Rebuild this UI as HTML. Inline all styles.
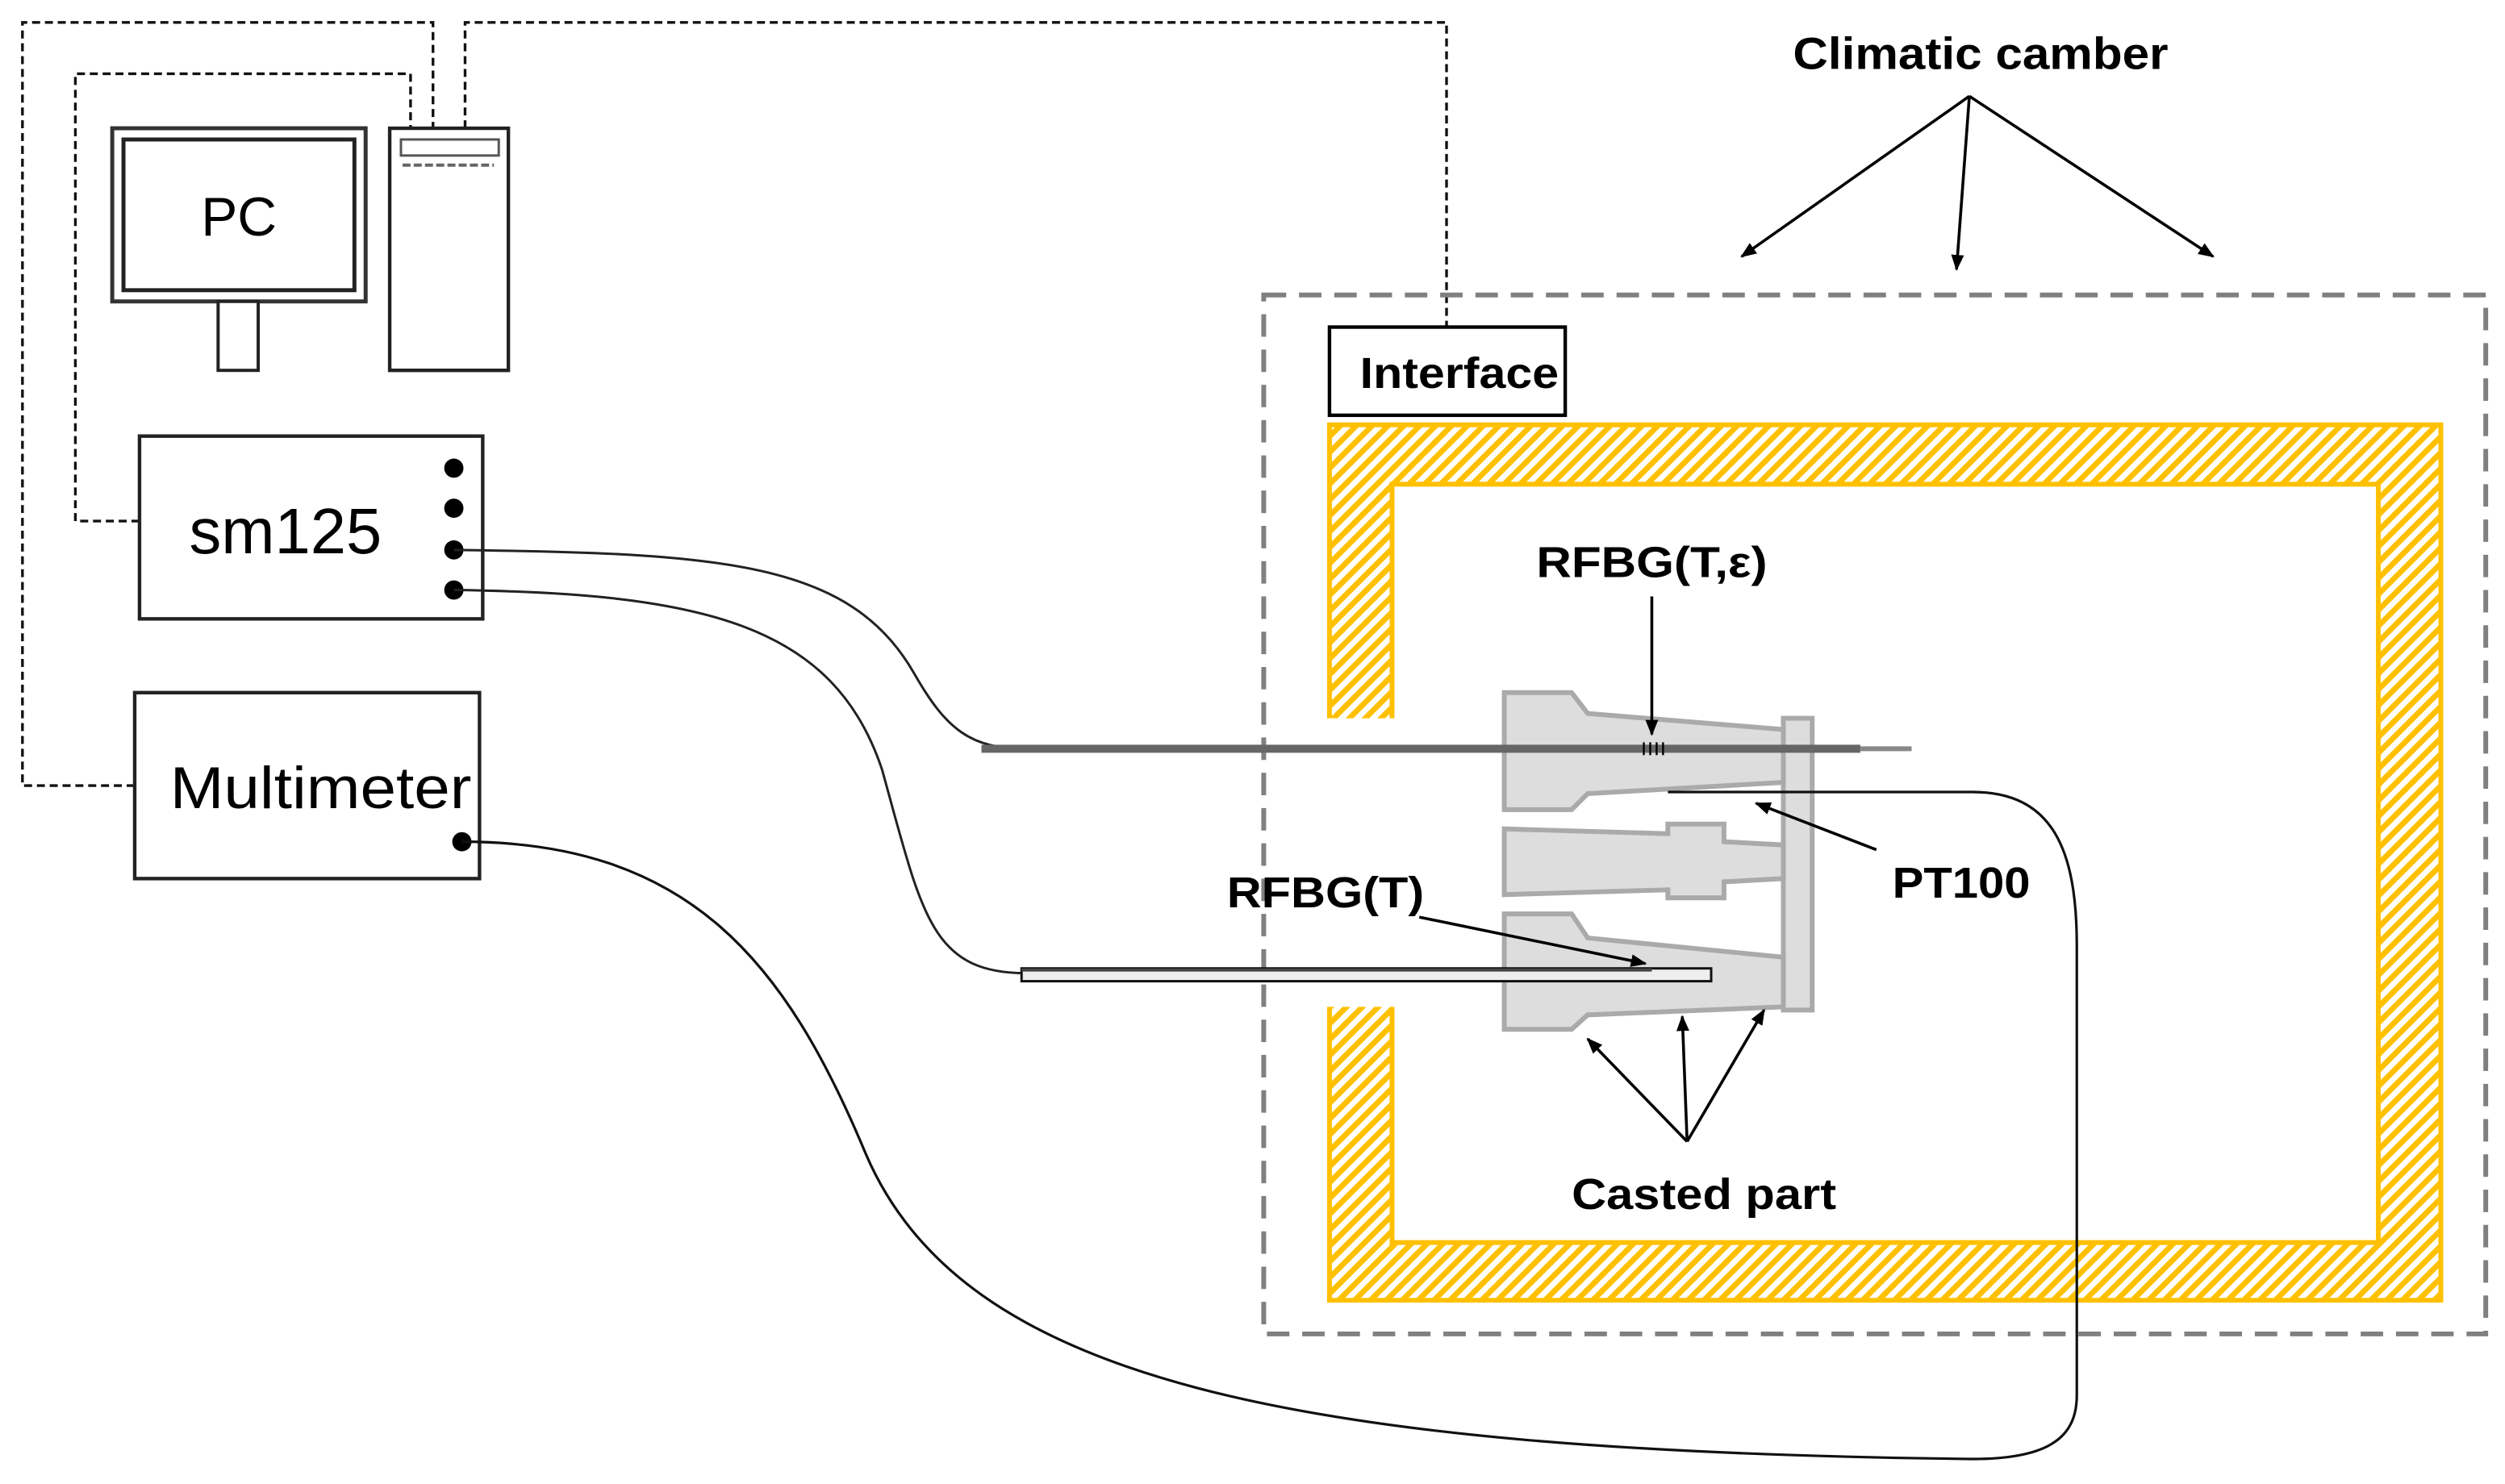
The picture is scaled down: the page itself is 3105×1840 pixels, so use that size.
<!DOCTYPE html>
<html><head><meta charset="utf-8"><style>html,body{margin:0;padding:0;background:#fff}svg{display:block}</style></head>
<body>
<svg width="3105" height="1840" viewBox="0 0 1562 925.6" preserveAspectRatio="none" xmlns="http://www.w3.org/2000/svg">
<defs>
<pattern id="h" width="7" height="7" patternUnits="userSpaceOnUse" patternTransform="rotate(45)">
<rect width="7" height="7" fill="#fff"/><rect width="3.5" height="7" fill="#FFC000"/>
</pattern>
<marker id="a" markerWidth="10" markerHeight="10" refX="9" refY="5" orient="auto" markerUnits="userSpaceOnUse"><path d="M0,1 L10,5 L0,9 z" fill="#000"/></marker>
</defs>
<g fill="none" stroke="#111" stroke-width="1.7" stroke-dasharray="5,3">
<polyline points="84,490 14,490 14,14 270,14 270,80"/>
<polyline points="87,325 47,325 47,46 256,46 256,80"/>
<polyline points="290,80 290,14 902,14 902,204"/>
</g>
<!-- PC -->
<rect x="70" y="80" width="158" height="108" fill="#fff" stroke="#333" stroke-width="2.5"/>
<rect x="77" y="87" width="144" height="94" fill="#fff" stroke="#222" stroke-width="2.5"/>
<rect x="136" y="188" width="25" height="43" fill="#fff" stroke="#222" stroke-width="2"/>
<text x="149" y="147" font-family="Liberation Sans, sans-serif" font-size="34" text-anchor="middle">PC</text>
<rect x="243" y="80" width="74" height="151" fill="#fff" stroke="#222" stroke-width="2.2"/>
<rect x="250" y="87" width="61" height="10" fill="#fff" stroke="#555" stroke-width="1.5"/>
<line x1="251" y1="103" x2="308" y2="103" stroke="#666" stroke-width="2" stroke-dasharray="5,2"/>
<!-- sm125 -->
<rect x="87" y="272" width="214" height="114" fill="#fff" stroke="#222" stroke-width="2.2"/>
<text x="118" y="345" font-family="Liberation Sans, sans-serif" font-size="40">sm125</text>
<g fill="#000"><circle cx="283" cy="292" r="6"/><circle cx="283" cy="317" r="6"/><circle cx="283" cy="343" r="6"/><circle cx="283" cy="368" r="6"/></g>
<!-- Multimeter -->
<rect x="84" y="432" width="215" height="116" fill="#fff" stroke="#222" stroke-width="2.2"/>
<text x="106" y="504" font-family="Liberation Sans, sans-serif" font-size="37" textLength="188" lengthAdjust="spacingAndGlyphs">Multimeter</text>
<circle cx="288" cy="525" r="6" fill="#000"/>
<!-- chamber -->
<rect x="788" y="184" width="762" height="648" fill="none" stroke="#808080" stroke-width="3" stroke-dasharray="14,8"/>
<text x="1118" y="43" font-family="Liberation Sans, sans-serif" font-weight="bold" font-size="28" textLength="234" lengthAdjust="spacingAndGlyphs">Climatic camber</text>
<g stroke="#000" stroke-width="1.8" marker-end="url(#a)">
<line x1="1228" y1="60" x2="1086" y2="160"/>
<line x1="1228" y1="60" x2="1220" y2="168"/>
<line x1="1228" y1="60" x2="1380" y2="160"/>
</g>
<rect x="829" y="204" width="147" height="55" fill="#fff" stroke="#000" stroke-width="2.2"/>
<text x="848" y="242" font-family="Liberation Sans, sans-serif" font-weight="bold" font-size="27" textLength="124" lengthAdjust="spacingAndGlyphs">Interface</text>
<!-- hatched frame -->
<path d="M829,265 H1522 V811 H829 Z M868,302 V775 H1483 V302 Z" fill="url(#h)" fill-rule="evenodd" stroke="#FFC000" stroke-width="3"/>
<rect x="824" y="448" width="46" height="180" fill="#fff"/>
<!-- casted parts -->
<g fill="#ddd" stroke="#aaa" stroke-width="3">
<rect x="1112" y="448" width="18" height="182"/>
<path d="M938,432 H980 L990,445 L1112,455 V488 L990,495 L980,505 H938 Z"/>
<path d="M938,517 L1040,520 V514 H1075 V525 L1112,527 V548 L1075,550 V560 H1040 V555 L938,558 Z"/>
<path d="M938,570 H980 L990,585 L1112,597 V628 L990,633 L980,642 H938 Z"/>
</g>
<!-- fibers -->
<path d="M283,343 C450,345 530,350 570,420 C590,455 605,467 640,467" fill="none" stroke="#222" stroke-width="1.5"/>
<line x1="612" y1="467" x2="1160" y2="467" stroke="#666" stroke-width="5"/>
<line x1="1160" y1="467" x2="1192" y2="467" stroke="#888" stroke-width="3"/>
<g stroke="#000" stroke-width="1.2"><line x1="1025" y1="463" x2="1025" y2="471"/><line x1="1029" y1="463" x2="1029" y2="471"/><line x1="1033" y1="463" x2="1033" y2="471"/><line x1="1037" y1="463" x2="1037" y2="471"/></g>
<path d="M283,368 C440,370 520,390 550,480 C575,570 580,607 640,607" fill="none" stroke="#222" stroke-width="1.5"/>
<rect x="637" y="604" width="430" height="8" fill="#eee" stroke="#111" stroke-width="1.5"/>
<line x1="637" y1="605" x2="1030" y2="605" stroke="#444" stroke-width="2"/>
<!-- multimeter wire -->
<path d="M288,525 C430,525 490,600 540,720 C600,860 800,905 1230,910 C1280,910 1295,895 1295,870 V590 C1295,530 1280,494 1230,494 H1040" fill="none" stroke="#111" stroke-width="1.6"/>
<!-- labels -->
<g font-family="Liberation Sans, sans-serif" font-weight="bold" font-size="27">
<text x="958" y="360" textLength="144" lengthAdjust="spacingAndGlyphs">RFBG(T,ε)</text>
<text x="1180" y="560" textLength="86" lengthAdjust="spacingAndGlyphs">PT100</text>
<text x="765" y="566" textLength="123" lengthAdjust="spacingAndGlyphs">RFBG(T)</text>
<text x="980" y="754" textLength="165" lengthAdjust="spacingAndGlyphs">Casted part</text>
</g>
<g stroke="#000" stroke-width="1.8" marker-end="url(#a)">
<line x1="1030" y1="372" x2="1030" y2="458"/>
<line x1="1170" y1="530" x2="1095" y2="501"/>
<line x1="885" y1="572" x2="1026" y2="601"/>
<line x1="1052" y1="712" x2="990" y2="648"/>
<line x1="1052" y1="712" x2="1049" y2="634"/>
<line x1="1052" y1="712" x2="1100" y2="630"/>
</g>
</svg>
</body></html>
